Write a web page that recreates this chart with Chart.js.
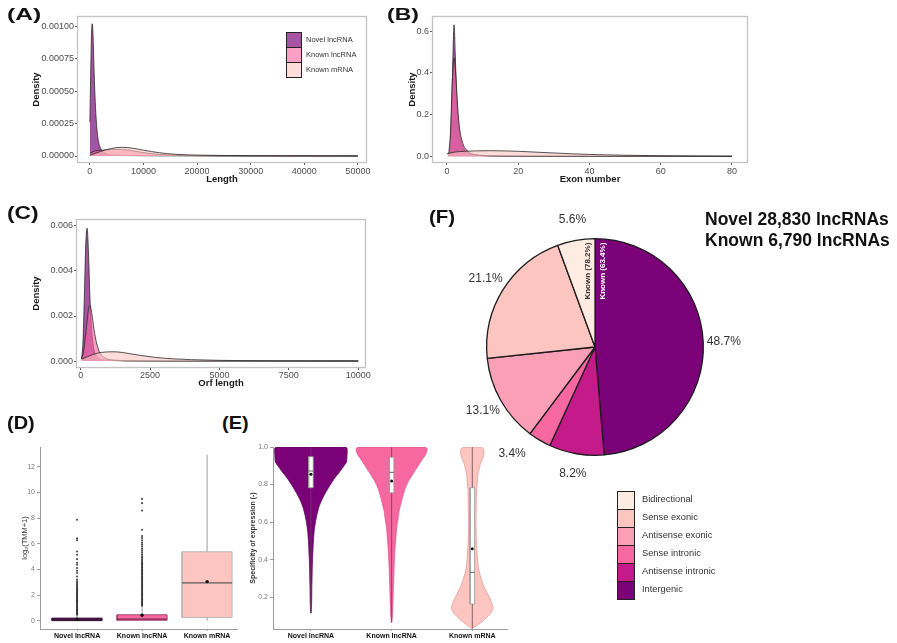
<!DOCTYPE html>
<html>
<head>
<meta charset="utf-8">
<title>lncRNA characteristics</title>
<script src="https://cdn.jsdelivr.net/npm/chart.js@4.4.1/dist/chart.umd.min.js"></script>
<style>
  html, body { margin: 0; padding: 0; background: #fff; }
  #fig { position: relative; width: 897px; height: 643px; overflow: hidden;
         font-family: 'Liberation Sans', Arial, sans-serif; }
  .tag { position: absolute; font-weight: bold; color: #111; white-space: nowrap; transform-origin: 0 0; }
  .txt { position: absolute; white-space: nowrap; }
  .sw { position: absolute; box-sizing: border-box; border: 1.3px solid #222; }
</style>
</head>
<body>
<div id="fig"></div>
<script>
// ---------- shared groups ----------
const groups = ['Novel lncRNA', 'Known lncRNA', 'Known mRNA'];

// ---------- (A) transcript length density ----------
const lengthTicks = [0, 10000, 20000, 30000, 40000, 50000];
const lengthDensityTicks = [0, 0.00025, 0.0005, 0.00075, 0.001];
const lengthNovelX = [0, 150, 300, 450, 600, 800, 1000, 1200, 1500, 1800, 2200, 2700, 3500, 5000, 8000, 12000, 20000, 30000, 50000];
const lengthNovelY = [0.00026, 0.00062, 0.00093, 0.00102, 0.00092, 0.00064, 0.00042, 0.00027, 0.00014, 0.00008, 0.000045, 0.000025, 0.000012, 0.000006, 0.000003, 0.0000015, 0.0000008, 0.0000004, 0.0000001];
const lengthKnownX = [0, 1000, 2500, 4000, 6000, 8000, 11000, 15000, 20000, 30000, 50000];
const lengthKnownY = [0.00002, 0.00004, 0.000045, 0.00005, 0.00005, 0.00004, 0.00002, 0.000008, 0.000003, 0.000001, 0];
const lengthMrnaX = [0, 2000, 4000, 6000, 8000, 10000, 13000, 16000, 20000, 25000, 30000, 40000, 50000];
const lengthMrnaY = [0.000005, 0.000035, 0.000058, 0.000067, 0.00006, 0.000045, 0.000025, 0.000013, 0.000007, 0.000004, 0.000002, 0.000001, 0.0000005];

// ---------- (B) exon number density ----------
const exonTicks = [0, 20, 40, 60, 80];
const exonDensityTicks = [0, 0.2, 0.4, 0.6];
const exonNovelX = [0.5, 1, 1.5, 1.8, 2, 2.3, 2.7, 3.2, 4, 5, 6.5, 8, 10, 15, 20, 30, 50, 80];
const exonNovelY = [0.0, 0.08, 0.35, 0.56, 0.63, 0.5, 0.3, 0.16, 0.07, 0.03, 0.012, 0.006, 0.003, 0.0015, 0.0008, 0.0004, 0.0001, 0];
const exonKnownX = [0.5, 1, 1.5, 2, 2.5, 3, 3.5, 4.5, 5.5, 7, 9, 12, 20, 40, 80];
const exonKnownY = [0.01, 0.12, 0.36, 0.47, 0.38, 0.24, 0.14, 0.06, 0.03, 0.012, 0.006, 0.003, 0.001, 0.0003, 0];
const exonMrnaX = [0, 2, 5, 8, 12, 16, 20, 25, 30, 35, 40, 50, 60, 70, 80];
const exonMrnaY = [0.012, 0.02, 0.024, 0.026, 0.027, 0.026, 0.024, 0.02, 0.016, 0.012, 0.009, 0.005, 0.003, 0.0015, 0.0005];

// ---------- (C) ORF length density ----------
const orfTicks = [0, 2500, 5000, 7500, 10000];
const orfDensityTicks = [0, 0.002, 0.004, 0.006];
const orfNovelX = [30, 80, 130, 180, 230, 280, 330, 400, 480, 600, 800, 1200, 2000, 4000, 10000];
const orfNovelY = [0.0001, 0.0008, 0.0028, 0.0051, 0.0059, 0.0048, 0.0029, 0.0013, 0.0005, 0.00018, 0.00006, 0.00002, 0.000005, 0.000001, 0];
const orfKnownX = [30, 100, 170, 240, 300, 340, 400, 480, 570, 700, 900, 1200, 1800, 3000, 10000];
const orfKnownY = [0.0001, 0.0004, 0.0011, 0.0019, 0.0024, 0.00245, 0.0021, 0.0014, 0.0008, 0.00035, 0.00012, 0.00004, 0.00001, 0.000003, 0];
const orfMrnaX = [30, 300, 600, 900, 1200, 1500, 1800, 2200, 2700, 3300, 4000, 5000, 6500, 8000, 10000];
const orfMrnaY = [0.00008, 0.00022, 0.00035, 0.0004, 0.00041, 0.00038, 0.00032, 0.00024, 0.00016, 0.0001, 0.00006, 0.00003, 0.00001, 0.000004, 0.000001];

// ---------- (D) expression, log2(TMM+1) ----------
const exprTicks = [0, 2, 4, 6, 8, 10, 12];
const exprLow = [0, 0, 0];
const exprQ1 = [0.0, 0.03, 0.25];
const exprMedian = [0.06, 0.12, 2.95];
const exprQ3 = [0.2, 0.46, 5.38];
const exprHigh = [0.45, 1.1, 12.95];
const exprMean = [0.12, 0.42, 3.05];
const exprOutNovel = [0.47, 0.55, 0.63, 0.71, 0.8, 0.88, 0.96, 1.05, 1.13, 1.22, 1.3, 1.39, 1.47, 1.56, 1.64, 1.73, 1.82, 1.9, 1.99, 2.08, 2.17, 2.26, 2.35, 2.44, 2.53, 2.62, 2.72, 2.83, 2.95, 3.08, 3.21, 3.45, 3.72, 3.9, 4.1, 4.36, 4.52, 4.8, 5.14, 5.4, 6.28, 6.42, 7.87];
const exprOutKnown = [1.16, 1.25, 1.33, 1.42, 1.5, 1.59, 1.68, 1.77, 1.85, 1.94, 2.03, 2.12, 2.21, 2.3, 2.39, 2.48, 2.57, 2.66, 2.75, 2.84, 2.93, 3.02, 3.11, 3.2, 3.29, 3.38, 3.47, 3.56, 3.65, 3.74, 3.83, 3.92, 4.01, 4.1, 4.19, 4.28, 4.38, 4.47, 4.57, 4.68, 4.79, 4.9, 5.02, 5.17, 5.33, 5.48, 5.62, 5.79, 5.95, 6.1, 6.27, 6.45, 6.6, 7.09, 8.6, 9.17, 9.5];
const exprOutMrna = [];

// ---------- (E) specificity of expression ----------
const specTicks = [0.2, 0.4, 0.6, 0.8, 1.0];
const specMin = [0.115, 0.065, 0.033];
const specMax = [1.0, 1.0, 1.0];
const specQ1 = [0.783, 0.756, 0.163];
const specMedian = [0.872, 0.865, 0.332];
const specQ3 = [0.948, 0.945, 0.783];
const specMean = [0.855, 0.819, 0.458];
const specNovelY = [1.0, 0.995, 0.95, 0.92, 0.9, 0.87, 0.84, 0.8, 0.76, 0.72, 0.68, 0.64, 0.6, 0.55, 0.5, 0.45, 0.4, 0.35, 0.3, 0.25, 0.2, 0.15, 0.115];
const specNovelW = [0.41, 0.447, 0.447, 0.441, 0.41, 0.36, 0.304, 0.242, 0.186, 0.137, 0.099, 0.075, 0.056, 0.04, 0.031, 0.025, 0.02, 0.016, 0.014, 0.011, 0.01, 0.007, 0.002];
const specKnownY = [1.0, 0.99, 0.96, 0.93, 0.9, 0.86, 0.82, 0.78, 0.74, 0.7, 0.66, 0.62, 0.58, 0.54, 0.5, 0.45, 0.4, 0.35, 0.3, 0.25, 0.2, 0.15, 0.1, 0.065];
const specKnownW = [0.41, 0.441, 0.422, 0.373, 0.329, 0.27, 0.211, 0.168, 0.14, 0.116, 0.093, 0.081, 0.066, 0.057, 0.05, 0.041, 0.035, 0.03, 0.026, 0.022, 0.019, 0.015, 0.01, 0.002];
const specMrnaY = [1.0, 0.99, 0.966, 0.94, 0.913, 0.88, 0.86, 0.8, 0.771, 0.7, 0.593, 0.5, 0.415, 0.36, 0.326, 0.29, 0.255, 0.22, 0.184, 0.16, 0.14, 0.115, 0.095, 0.07, 0.05, 0.033];
const specMrnaW = [0.1, 0.139, 0.145, 0.13, 0.103, 0.084, 0.072, 0.06, 0.053, 0.05, 0.046, 0.05, 0.062, 0.075, 0.091, 0.116, 0.145, 0.186, 0.227, 0.248, 0.258, 0.23, 0.186, 0.124, 0.062, 0.006];

// ---------- (F) lncRNA classes ----------
const classLabels = ['Bidirectional', 'Sense exonic', 'Antisense exonic', 'Sense intronic', 'Antisense intronic', 'Intergenic'];
const classShare = [5.6, 21.1, 13.1, 3.4, 8.2, 48.7];
const knownNotes = { 'Bidirectional': 'Known (78.2%)', 'Intergenic': 'Known (63.4%)' };
const headline = ['Novel 28,830 lncRNAs', 'Known 6,790 lncRNAs'];

// ---------- styling ----------
const FONT = "'Liberation Sans', Arial, sans-serif";
const groupColor = ['#7a0177', '#f768a1', '#fcc5c0'];
const densityFill = ['rgba(122,1,119,0.68)', 'rgba(247,104,161,0.62)', 'rgba(252,197,192,0.6)'];
const classColor = ['#feebe2', '#fcc5c0', '#fa9fb5', '#f768a1', '#c51b8a', '#7a0177'];
const pieLabelNudge = { 'Sense intronic': { turn: 7, r: 1.25 } };

Chart.defaults.font.family = FONT;
Chart.defaults.animation = false;
Chart.defaults.responsive = false;
Chart.defaults.plugins.legend.display = false;
Chart.defaults.plugins.tooltip.enabled = false;

const fig = document.getElementById('fig');

function mount(left, top, width, height) {
  const c = document.createElement('canvas');
  c.width = width; c.height = height;
  c.style.cssText = `position:absolute;left:${left}px;top:${top}px;width:${width}px;height:${height}px;`;
  fig.appendChild(c);
  return c;
}
function text(str, left, top, css) {
  const d = document.createElement('div');
  d.className = 'txt';
  d.textContent = str;
  d.style.cssText += `left:${left}px;top:${top}px;` + (css || '');
  fig.appendChild(d);
  return d;
}
function tag(str, left, top, size, stretch) {
  const d = document.createElement('div');
  d.className = 'tag';
  d.textContent = str;
  d.style.cssText += `left:${left}px;top:${top}px;font-size:${size}px;line-height:${size}px;transform:scaleX(${stretch});`;
  fig.appendChild(d);
}

// grey rectangle round the plotting area (panel border)
const panelFrame = {
  id: 'panelFrame',
  afterDatasetsDraw(chart, args, opts) {
    const { left, top, right, bottom } = chart.chartArea;
    const ctx = chart.ctx;
    ctx.save();
    ctx.strokeStyle = opts.color || '#c2c2c2';
    ctx.lineWidth = opts.width || 1.2;
    ctx.strokeRect(left + 0.5, top + 0.5, right - left - 1, bottom - top - 1);
    ctx.restore();
  }
};

// ---------- density panels ----------
function densityPanel(geo, xTicks, yTicks, yDigits, xRange, yRange, xTitle, series) {
  const width = geo.axW + geo.fw + geo.padR;
  const height = geo.padT + geo.fh + geo.axH;
  const cv = mount(geo.left, geo.top, width, height);
  const datasets = series.map((s, i) => ({
    data: s.x.map((x, k) => ({ x, y: s.y[k] })),
    fill: 'origin',
    backgroundColor: densityFill[i],
    borderColor: '#2a2a2a',
    borderWidth: 0.8,
    pointRadius: 0,
    cubicInterpolationMode: 'monotone',
    order: series.length - i
  }));
  new Chart(cv, {
    type: 'line',
    data: { datasets },
    plugins: [panelFrame],
    options: {
      layout: { padding: { left: 0, top: geo.padT, right: geo.padR, bottom: 0 } },
      plugins: { panelFrame: { color: '#c4c4c4', width: 1.3 } },
      scales: {
        x: {
          type: 'linear', min: xRange[0], max: xRange[1],
          afterBuildTicks: s => { s.ticks = xTicks.map(v => ({ value: v })); },
          afterFit: s => { s.height = geo.axH; },
          grid: { drawOnChartArea: false, drawTicks: true, tickLength: 2, color: '#555' },
          border: { display: false },
          ticks: { font: { size: 9 }, color: '#4d4d4d', padding: geo.xtkPad, maxRotation: 0, autoSkip: false, callback: v => String(v) },
          title: { display: true, text: xTitle, color: '#1a1a1a', font: { size: 9.5, weight: 'bold' }, padding: { top: 0, bottom: geo.xtPad } }
        },
        y: {
          type: 'linear', min: yRange[0], max: yRange[1],
          afterBuildTicks: s => { s.ticks = yTicks.map(v => ({ value: v })); },
          afterFit: s => { s.width = geo.axW; },
          grid: { drawOnChartArea: false, drawTicks: true, tickLength: 2, color: '#555' },
          border: { display: false },
          ticks: { font: { size: 9 }, color: '#4d4d4d', padding: 1, autoSkip: false, callback: v => Number(v).toFixed(yDigits) },
          title: { display: true, text: 'Density', color: '#1a1a1a', font: { size: 9.5, weight: 'bold' }, padding: { top: geo.ytPad, bottom: 0 } }
        }
      }
    }
  });
}

densityPanel({ left: 0, top: 6, axW: 77, padT: 10, fw: 290, fh: 147, axH: 28, padR: 13, xtPad: 6.3, ytPad: 30.3, xtkPad: 1 },
  lengthTicks, lengthDensityTicks, 5, [-2400, 51700], [-0.000054, 0.00108], 'Length',
  [{ x: lengthNovelX, y: lengthNovelY }, { x: lengthKnownX, y: lengthKnownY }, { x: lengthMrnaX, y: lengthMrnaY }]);

densityPanel({ left: 380, top: 6, axW: 52, padT: 10, fw: 316, fh: 147, axH: 28, padR: 12, xtPad: 6.3, ytPad: 26.3, xtkPad: 1 },
  exonTicks, exonDensityTicks, 1, [-4.2, 84.5], [-0.032, 0.672], 'Exon number',
  [{ x: exonNovelX, y: exonNovelY }, { x: exonKnownX, y: exonKnownY }, { x: exonMrnaX, y: exonMrnaY }]);

densityPanel({ left: 0, top: 209, axW: 76, padT: 10, fw: 290, fh: 149, axH: 28, padR: 14, xtPad: 6.8, ytPad: 31, xtkPad: 0 },
  orfTicks, orfDensityTicks, 3, [-170, 10280], [-0.00031, 0.00631], 'Orf length',
  [{ x: orfNovelX, y: orfNovelY }, { x: orfKnownX, y: orfKnownY }, { x: orfMrnaX, y: orfMrnaY }]);

// legend of panel (A)
groups.forEach((g, i) => {
  const sw = document.createElement('div');
  sw.className = 'sw';
  sw.style.cssText += `left:286px;top:${32 + i * 15}px;width:16px;height:15.5px;background:${densityFill[i]};`;
  fig.appendChild(sw);
  text(g, 306, 34.5 + i * 15, 'font-size:7.5px;line-height:9px;color:#333;');
});

// ---------- classic axes for (D) and (E) ----------
function classicScales(geo, xRange, yRange, yTicks, yFmt, yTitle, yTitleBold) {
  return {
    x: {
      type: 'linear', min: xRange[0], max: xRange[1],
      afterBuildTicks: s => { s.ticks = groups.map((g, i) => ({ value: i + 1 })); },
      afterFit: s => { s.height = geo.axH; },
      grid: { drawOnChartArea: false, drawTicks: true, tickLength: 2, color: '#9c9c9c' },
      border: { display: true, color: '#9c9c9c', width: 1 },
      ticks: { font: { size: 7, weight: 'bold' }, color: '#111', padding: 1, maxRotation: 0, autoSkip: false, callback: v => groups[Math.round(v) - 1] }
    },
    y: {
      type: 'linear', min: yRange[0], max: yRange[1],
      afterBuildTicks: s => { s.ticks = yTicks.map(v => ({ value: v })); },
      afterFit: s => { s.width = geo.axW; },
      grid: { drawOnChartArea: false, drawTicks: true, tickLength: 3, color: '#9c9c9c' },
      border: { display: true, color: '#9c9c9c', width: 1 },
      ticks: { font: { size: 7 }, color: '#7a7a7a', padding: 2, autoSkip: false, callback: yFmt },
      title: { display: true, text: yTitle, color: '#333', font: { size: geo.ytSize, weight: yTitleBold ? 'bold' : 'normal' }, padding: { top: geo.ytPad, bottom: 0 } }
    }
  };
}

function seg(points, color, width, extra) {
  return Object.assign({ data: points, showLine: true, borderColor: color, borderWidth: width, pointRadius: 0, fill: false, tension: 0 }, extra || {});
}
function rect(cx, hw, lo, hi) {
  return [{ x: cx - hw, y: lo }, { x: cx + hw, y: lo }, { x: cx + hw, y: hi }, { x: cx - hw, y: hi }, { x: cx - hw, y: lo }];
}

// ---------- (D) expression box plots ----------
(function () {
  const geo = { left: 10, top: 439, axW: 30, padT: 8, fw: 197, fh: 182, axH: 14, padR: 6, ytPad: 10.5, ytSize: 7.5 };
  const cv = mount(geo.left, geo.top, geo.axW + geo.fw + geo.padR, geo.padT + geo.fh + geo.axH);
  const boxHalf = 0.385;
  const boxEdge = ['#2b1a2b', '#9c3d68', '#b4b4b4'];
  const medianColor = ['#2b1a2b', '#7a2a50', '#5a5a5a'];
  const outliers = [exprOutNovel, exprOutKnown, exprOutMrna];
  const ds = [];
  groups.forEach((g, i) => {
    const c = i + 1;
    ds.push(seg([{ x: c, y: exprLow[i] }, { x: c, y: exprQ1[i] }], '#9a9a9a', 1));
    ds.push(seg([{ x: c, y: exprQ3[i] }, { x: c, y: exprHigh[i] }], '#9a9a9a', 1));
    ds.push(seg(rect(c, boxHalf, exprQ1[i], exprQ3[i]), boxEdge[i], 0.9, { fill: 'shape', backgroundColor: groupColor[i] }));
    ds.push(seg([{ x: c - boxHalf, y: exprMedian[i] }, { x: c + boxHalf, y: exprMedian[i] }], medianColor[i], 1.3));
    ds.push({ data: outliers[i].map(v => ({ x: c, y: v })), showLine: false, pointRadius: 1.05, pointBorderWidth: 0, pointBackgroundColor: 'rgba(30,30,30,0.8)' });
    ds.push({ data: [{ x: c, y: exprMean[i] }], showLine: false, pointRadius: 1.7, pointBorderWidth: 0, pointBackgroundColor: '#111' });
  });
  ds.forEach((d, k) => { d.order = ds.length - k; });
  new Chart(cv, {
    type: 'scatter',
    data: { datasets: ds },
    options: {
      layout: { padding: { left: 0, top: geo.padT, right: geo.padR, bottom: 0 } },
      scales: classicScales(geo, [0.43, 3.46], [-0.65, 13.55], exprTicks, v => String(v), 'log\u2082(TMM+1)', false)
    }
  });
})();

// ---------- (E) specificity violins ----------
function violinOutline(c, ys, ws) {
  const pts = [];
  for (let i = ys.length - 1; i >= 0; i--) pts.push({ x: c + ws[i], y: ys[i] });
  for (let i = 0; i < ys.length; i++) pts.push({ x: c - ws[i], y: ys[i] });
  pts.push(pts[0]);
  return pts;
}
(function () {
  const geo = { left: 245, top: 439, axW: 28, padT: 8, fw: 234, fh: 182, axH: 14, padR: 6, ytPad: 3.8, ytSize: 7 };
  const cv = mount(geo.left, geo.top, geo.axW + geo.fw + geo.padR, geo.padT + geo.fh + geo.axH);
  const shapes = [[specNovelY, specNovelW], [specKnownY, specKnownW], [specMrnaY, specMrnaW]];
  const violinEdge = ['#5e0a5c', '#e2568f', '#e39d99'];
  const boxHalf = 0.028;
  const ds = [];
  groups.forEach((g, i) => {
    const c = i + 1;
    ds.push(seg(violinOutline(c, shapes[i][0], shapes[i][1]), violinEdge[i], 0.8, { fill: 'shape', backgroundColor: groupColor[i], tension: 0.2 }));
    ds.push(seg([{ x: c, y: specMin[i] }, { x: c, y: specMax[i] }], '#6b4456', 0.8));
    ds.push(seg(rect(c, boxHalf, specQ1[i], specQ3[i]), '#9a9a9a', 0.8, { fill: 'shape', backgroundColor: '#ffffff' }));
    ds.push(seg([{ x: c - boxHalf, y: specMedian[i] }, { x: c + boxHalf, y: specMedian[i] }], '#555', 0.9));
    ds.push({ data: [{ x: c, y: specMean[i] }], showLine: false, pointRadius: 1.5, pointBorderWidth: 0, pointBackgroundColor: '#111' });
  });
  ds.forEach((d, k) => { d.order = ds.length - k; });
  new Chart(cv, {
    type: 'scatter',
    data: { datasets: ds },
    options: {
      layout: { padding: { left: 0, top: geo.padT, right: geo.padR, bottom: 0 } },
      scales: classicScales(geo, [0.53, 3.43], [0.03, 1.0], specTicks, v => Number(v).toFixed(1), 'Specificity of expression (-)', true)
    }
  });
})();

// ---------- (F) class composition pie ----------
const pieNotes = {
  id: 'pieNotes',
  afterDatasetsDraw(chart) {
    const ctx = chart.ctx;
    const meta = chart.getDatasetMeta(0);
    const values = chart.data.datasets[0].data;
    ctx.save();
    meta.data.forEach((arc, i) => {
      const p = arc.getProps(['x', 'y', 'startAngle', 'endAngle', 'outerRadius'], true);
      const label = chart.data.labels[i];
      const adj = pieLabelNudge[label] || {};
      const mid = (p.startAngle + p.endAngle) / 2 + (adj.turn || 0) * Math.PI / 180;
      const r = p.outerRadius * (adj.r || 1.19);
      ctx.font = `12px ${FONT}`;
      ctx.fillStyle = '#333';
      ctx.textAlign = 'center';
      ctx.textBaseline = 'middle';
      ctx.fillText(values[i].toFixed(1) + '%', p.x + Math.cos(mid) * r, p.y + Math.sin(mid) * r);
      const note = knownNotes[label];
      if (note) {
        // vertical note hugging the 12 o'clock boundary, inside its slice
        const side = Math.abs(p.startAngle + Math.PI / 2) < 1e-6 ? 1 : -1;
        ctx.save();
        ctx.translate(p.x + side * 7.5, p.y - p.outerRadius * 0.7);
        ctx.rotate(-Math.PI / 2);
        ctx.font = `bold 8px ${FONT}`;
        ctx.fillStyle = side > 0 ? '#ffffff' : '#333';
        ctx.fillText(note, 0, 0);
        ctx.restore();
      }
    });
    ctx.restore();
  }
};
(function () {
  const cv = mount(440, 192, 310, 310);
  const order = classLabels.map((l, i) => i).reverse();
  new Chart(cv, {
    type: 'pie',
    data: {
      labels: order.map(i => classLabels[i]),
      datasets: [{
        data: order.map(i => classShare[i]),
        backgroundColor: order.map(i => classColor[i]),
        borderColor: '#1c1c1c',
        borderWidth: 1.3
      }]
    },
    plugins: [pieNotes],
    options: { layout: { padding: 46 } }
  });
})();

// pie legend
classLabels.forEach((l, i) => {
  const sw = document.createElement('div');
  sw.className = 'sw';
  sw.style.cssText += `left:617px;top:${491 + i * 18}px;width:18px;height:18.5px;background:${classColor[i]};`;
  fig.appendChild(sw);
  text(l, 642, 494 + i * 18, 'font-size:9.3px;line-height:11px;color:#333;');
});

// headline counts
headline.forEach((h, i) => text(h, 705, 210.5 + i * 21, 'font-size:17.5px;line-height:17.5px;font-weight:bold;color:#111;'));

// panel tags
tag('(A)', 7, 6, 17, 1.45);
tag('(B)', 387, 6, 17, 1.35);
tag('(C)', 7, 203, 19, 1.2);
tag('(D)', 7, 413, 19, 1.05);
tag('(E)', 222, 413, 19, 1.05);
tag('(F)', 429, 207, 19, 1.08);
</script>
</body>
</html>
